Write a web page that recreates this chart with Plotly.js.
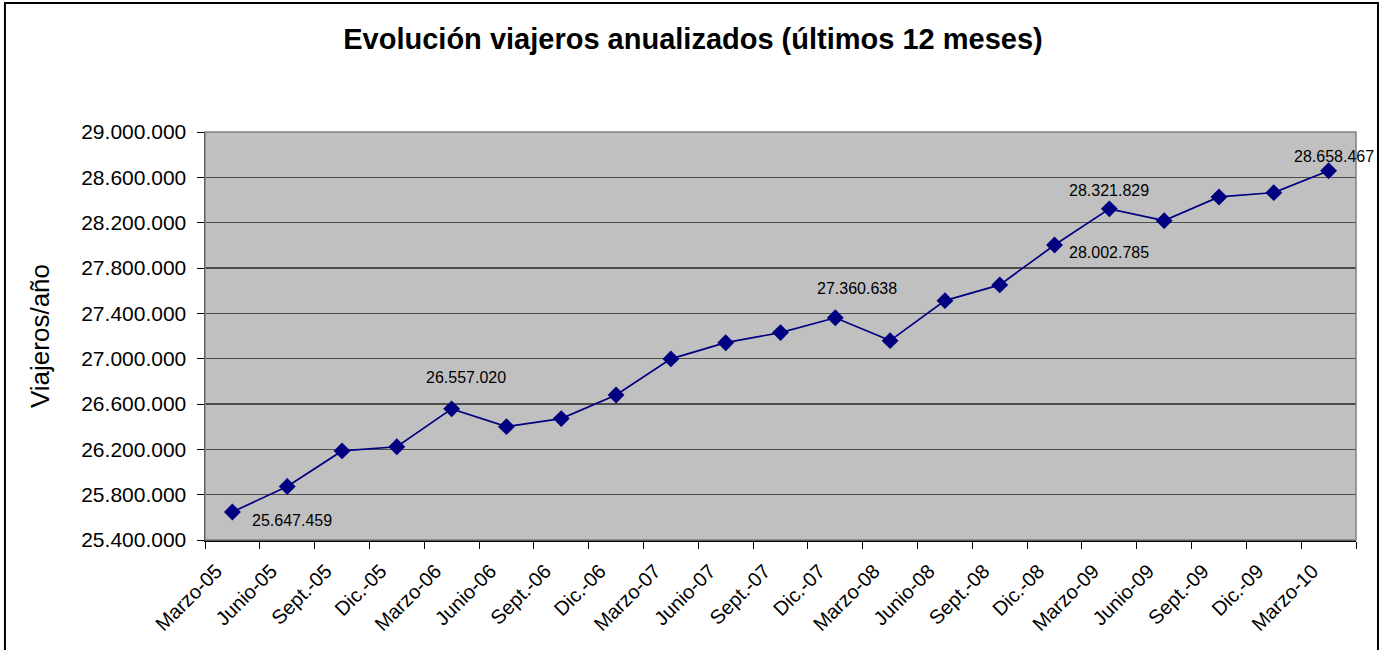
<!DOCTYPE html>
<html>
<head>
<meta charset="utf-8">
<script src="https://cdn.plot.ly/plotly-3.0.1.min.js"></script>
<style>
html,body{margin:0;padding:0;background:#fff;}
#chart{width:1386px;height:650px;}
</style>
</head>
<body>
<div id="chart"></div>
<script>
const categories = ["Marzo-05","Junio-05","Sept.-05","Dic.-05","Marzo-06","Junio-06","Sept.-06","Dic.-06","Marzo-07","Junio-07","Sept.-07","Dic.-07","Marzo-08","Junio-08","Sept.-08","Dic.-08","Marzo-09","Junio-09","Sept.-09","Dic.-09","Marzo-10"];
const viajeros = [25647459, 25872000, 26186000, 26223000, 26557020, 26400000, 26471000, 26680000, 26998000, 27141000, 27230000, 27360638, 27159000, 27512000, 27651000, 28002785, 28321829, 28218000, 28427000, 28465000, 28658467];
const labelIndex = [0, 4, 11, 15, 16, 20];
const labelText = ["25.647.459", "26.557.020", "27.360.638", "28.002.785", "28.321.829", "28.658.467"];
const yTickVals = [25400000, 25800000, 26200000, 26600000, 27000000, 27400000, 27800000, 28200000, 28600000, 29000000];

const labelShift = [[60, -9], [14, 31], [22, 29], [54, -7], [0, 18], [5, 14]];

const FONT = "Liberation Sans, Arial, sans-serif";

const annotations = labelIndex.map((idx, k) => ({
  x: categories[idx], y: viajeros[idx], xref: 'x', yref: 'y',
  text: labelText[k], showarrow: false,
  xshift: labelShift[k][0], yshift: labelShift[k][1],
  font: {family: FONT, size: 16, color: '#000'}
}));

const trace = {
  x: categories, y: viajeros, type: 'scatter', mode: 'lines+markers',
  line: {color: '#000080', width: 1.7},
  marker: {symbol: 'diamond', size: 13, color: '#000080'},
  hoverinfo: 'x+y'
};

const layout = {
  width: 1386, height: 650,
  margin: {l: 205, r: 30, t: 132, b: 110},
  paper_bgcolor: '#ffffff', plot_bgcolor: '#c0c0c0',
  separators: ',.',
  showlegend: false,
  title: {text: '<b>Evolución viajeros anualizados (últimos 12 meses)</b>', x: 0.5, xref: 'container', xanchor: 'center', y: 0.94, yref: 'container', yanchor: 'middle', font: {family: FONT, size: 29, color: '#000'}},
  xaxis: {
    type: 'category', range: [-0.5, 20.5], tickangle: -45,
    tickson: 'boundaries', ticks: 'outside', ticklen: 7, tickcolor: '#000', tickwidth: 1,
    ticklabelstandoff: 10, ticklabelshift: -16,
    showline: true, linecolor: '#000', linewidth: 1.5, showgrid: false, zeroline: false,
    tickfont: {family: FONT, size: 20, color: '#000'}
  },
  yaxis: {
    range: [25400000, 29000000], tickvals: yTickVals, tickformat: ',d',
    ticks: 'outside', ticklen: 7, tickcolor: '#000', tickwidth: 1,
    ticklabelstandoff: 6,
    showline: true, linecolor: '#000', linewidth: 1.5,
    showgrid: true, gridcolor: '#4d4d4d', gridwidth: 1.2, zeroline: false,
    tickfont: {family: FONT, size: 21, color: '#000'},
    title: {text: 'Viajeros/año', font: {family: FONT, size: 26, color: '#000'}, standoff: 24}
  },
  shapes: [
    {type: 'rect', xref: 'paper', yref: 'paper', x0: 0, x1: 1, y0: 0, y1: 1, line: {color: '#808080', width: 1.5}, layer: 'above'},
    {type: 'rect', xref: 'paper', yref: 'paper', x0: -0.1738, x1: 1.0191, y0: -0.35, y1: 1.316, line: {color: '#000', width: 2}, layer: 'above'}
  ],
  annotations: annotations
};

Plotly.newPlot('chart', [trace], layout, {displayModeBar: false, staticPlot: true});
</script>
</body>
</html>
